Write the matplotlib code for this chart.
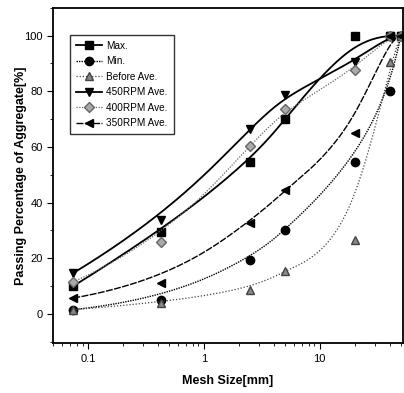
import numpy as np
import matplotlib.pyplot as plt

plt.rcParams['font.family'] = ['Liberation Sans', 'DejaVu Sans']

mesh = [0.075, 0.425, 2.5, 5, 20, 40, 50]
max_pass = [10, 29.5, 54.5, 70, 100, 100, 100]
min_pass = [1.5, 5, 19.5, 30, 54.5, 80, 100]
before_ave = [1.5, 4, 8.6, 15.5, 26.5, 90.5, 100]
rpm450 = [14.7, 33.7, 66.5, 78.5, 90.5, 100, 100]
rpm400 = [11.5, 25.8, 60.5, 73.5, 87.5, 100, 100]
rpm350 = [5.7, 11.2, 32.6, 44.5, 65, 100, 100]
names = ['Max.', 'Min.', 'Before Ave.', '450RPM Ave.', '400RPM Ave.', '350RPM Ave.']


def bspline(xs, ys, n=300):
    # clamped cubic B-spline with the data points as control points (in log x)
    P = np.column_stack([np.log10(xs), ys])
    k = 3
    m = len(P)
    knots = np.concatenate([[0] * k, np.linspace(0, 1, m - k + 1), [1] * k])
    t = np.linspace(0, 1, n)
    t[-1] = 1 - 1e-9

    def basis(i, p, t):
        if p == 0:
            return ((knots[i] <= t) & (t < knots[i + 1])).astype(float)
        a = 0.0
        b = 0.0
        if knots[i + p] != knots[i]:
            a = (t - knots[i]) / (knots[i + p] - knots[i]) * basis(i, p - 1, t)
        if knots[i + p + 1] != knots[i + 1]:
            b = (knots[i + p + 1] - t) / (knots[i + p + 1] - knots[i + 1]) * basis(i + 1, p - 1, t)
        return a + b

    C = sum(basis(i, k, t)[:, None] * P[i] for i in range(m))
    return 10 ** C[:, 0], C[:, 1]


fig = plt.figure(figsize=(4.04, 3.93), dpi=100)
ax = fig.add_axes([0.131, 0.127, 0.866, 0.853])

styles = [
    (max_pass, 's', 'black', 'black', '-', 1.3),
    (min_pass, 'o', 'black', 'black', (0, (1, 0.8)), 1.0),
    (before_ave, '^', '#888888', '#444444', (0, (1, 1.5)), 0.9),
    (rpm450, 'v', 'black', 'black', '-', 1.3),
    (rpm400, 'D', '#aaaaaa', '#666666', (0, (1, 1.2)), 0.9),
    (rpm350, '<', 'black', 'black', (0, (5, 1)), 1.0),
]
for (vals, mk, fc, ec, ls, lw), name in zip(styles, names):
    cx, cy = bspline(mesh, vals)
    ax.plot(cx, cy, color=ec, linestyle=ls, linewidth=lw)
    ax.plot(mesh, vals, linestyle='none', marker=mk, markersize=6 if mk != 'D' else 5,
            markerfacecolor=fc, markeredgecolor=ec)
    ax.plot([], [], color=ec, linestyle=ls, linewidth=lw, marker=mk,
            markersize=6 if mk != 'D' else 5, markerfacecolor=fc,
            markeredgecolor=ec, label=name)

ax.set_xscale('log')
ax.set_xlim(0.05, 52)
ax.set_ylim(-10.5, 110)
ax.set_yticks([0, 20, 40, 60, 80, 100])
ax.set_yticks(range(-10, 111, 10), minor=True)
ax.set_xticks([0.1, 1, 10])
ax.set_xticklabels(['0.1', '1', '10'])
ax.tick_params(which='both', direction='out', labelsize=8)
ax.tick_params(which='major', length=4)
ax.tick_params(which='minor', length=2)
for s in ax.spines.values():
    s.set_linewidth(1.3)

ax.set_xlabel('Mesh Size[mm]', fontsize=9, fontweight='bold', labelpad=8)
ax.set_ylabel('Passing Percentage of Aggregate[%]', fontsize=9, fontweight='bold', labelpad=-2)

leg = ax.legend(loc='upper left', bbox_to_anchor=(0.035, 0.935), fontsize=7.2,
                frameon=True, fancybox=False, edgecolor='black', handlelength=2.6,
                borderpad=0.6, labelspacing=0.55, handletextpad=0.4)
leg.get_frame().set_linewidth(1.0)

fig.savefig('out.png', dpi=100)
